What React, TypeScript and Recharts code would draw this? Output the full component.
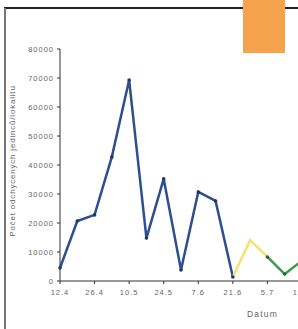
import { CartesianGrid, Line, LineChart, XAxis, YAxis } from "recharts";

const DATES = [
  "12.4", "19.4", "26.4", "3.5", "10.5", "17.5", "24.5", "31.5",
  "7.6", "14.6", "21.6", "28.6", "5.7", "12.7", "19.7",
];
const BLUE = [4500, 20700, 22800, 42800, 69300, 14800, 35200, 3800, 30700, 27600, 1400, null, null, null, null];
const YELLOW = [null, null, null, null, null, null, null, null, null, null, 1400, 14100, 8300, null, null];
const GREEN = [null, null, null, null, null, null, null, null, null, null, null, null, 8300, 2400, 7000];
const Y_TICKS = [0, 10000, 20000, 30000, 40000, 50000, 60000, 70000, 80000];

const data = DATES.map((d, i) => ({ date: d, blue: BLUE[i], yellow: YELLOW[i], green: GREEN[i] }));

const FONT = "Liberation Sans, Arial, sans-serif";
const TICK = { fill: "#666", fontSize: 7.5, fontFamily: FONT, letterSpacing: 1 };

export default function App() {
  return (
    <div
      style={{
        position: "fixed",
        left: 0,
        top: 0,
        width: 298,
        height: 329,
        overflow: "hidden",
        background: "#fff",
      }}
    >
      {/* scan border lines */}
      <div style={{ position: "absolute", left: 4, top: 7, width: 294, height: 2, background: "#222" }} />
      <div style={{ position: "absolute", left: 4, top: 8, width: 2, height: 321, background: "#777" }} />

      <div style={{ position: "absolute", left: 0, top: 0 }}>
        <LineChart width={320} height={329} data={data} margin={{ top: 49, right: 18, bottom: 0, left: 0 }}>
          <CartesianGrid stroke="none" />
          <XAxis
            dataKey="date"
            interval={1}
            height={48}
            tick={TICK}
            tickSize={3}
            tickMargin={6}
            stroke="#333"
            label={{
              value: "Datum",
              position: "insideBottomRight",
              offset: 12,
              dx: -12,
              style: { fill: "#666", fontSize: 8.5, fontFamily: FONT, letterSpacing: 1.2 },
            }}
          />
          <YAxis
            width={60}
            domain={[0, 80000]}
            ticks={Y_TICKS}
            tick={TICK}
            tickSize={3}
            tickMargin={3}
            stroke="#333"
            label={{
              value: "Počet odchycených jedinců/lokalitu",
              angle: -90,
              position: "insideLeft",
              offset: 12,
              dy: -4,
              style: {
                textAnchor: "middle",
                fill: "#666",
                fontSize: 8,
                letterSpacing: 0.8,
                fontFamily: FONT,
              },
            }}
          />
          <Line
            dataKey="blue"
            stroke="#2d4f92"
            strokeWidth={2.5}
            dot={{ r: 1.8, fill: "#1f3868", stroke: "#1f3868", strokeWidth: 0 }}
            isAnimationActive={false}
          />
          <Line
            dataKey="yellow"
            stroke="#f2e36e"
            strokeWidth={2.5}
            dot={false}
            isAnimationActive={false}
          />
          <Line
            dataKey="green"
            stroke="#3b9a4c"
            strokeWidth={2.5}
            dot={{ r: 1.8, fill: "#226b30", stroke: "#226b30", strokeWidth: 0 }}
            isAnimationActive={false}
          />
        </LineChart>
      </div>

      <div style={{ position: "absolute", left: 243, top: 0, width: 42, height: 53, background: "#f6a34e" }} />
    </div>
  );
}
